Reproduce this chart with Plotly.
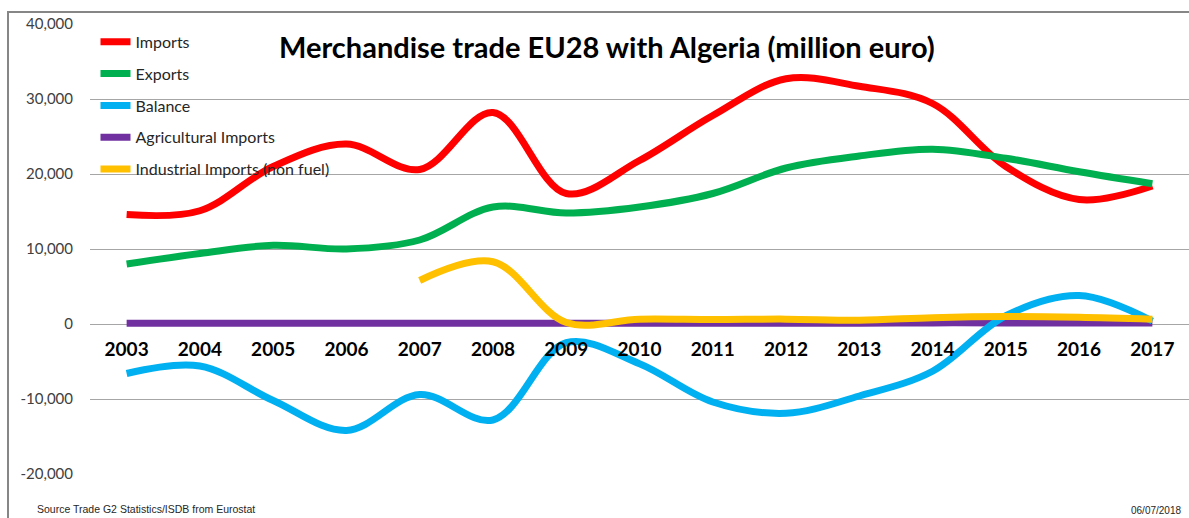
import plotly.graph_objects as go

years = [str(y) for y in range(2003, 2018)]

imports = [14600, 15100, 21000, 24000, 20600, 28200, 17400, 21800, 27800, 32700, 31700, 29400, 21000, 16600, 18400]
exports = [8000, 9400, 10500, 10000, 11200, 15600, 14800, 15600, 17400, 20800, 22400, 23300, 22100, 20300, 18700]
balance = [-6600, -5600, -10200, -14200, -9400, -12800, -2500, -5300, -10400, -11900, -9600, -6300, 1100, 3800, 400]
agri_imports = [100, 100, 100, 100, 100, 100, 100, 100, 100, 100, 100, 150, 150, 150, 150]
ind_imports = [None, None, None, None, 5800, 8300, 200, 650, 600, 650, 500, 850, 1000, 900, 650]

y_ticks = [-20000, -10000, 0, 10000, 20000, 30000, 40000]
y_ticktext = ['-20,000', '-10,000', '0', '10,000', '20,000', '30,000', '40,000']

series = [
    ('Imports', imports, '#FF0000'),
    ('Exports', exports, '#00B050'),
    ('Balance', balance, '#00B0F0'),
    ('Agricultural Imports', agri_imports, '#7030A0'),
    ('Industrial Imports (non fuel)', ind_imports, '#FFC000'),
]

fig = go.Figure()

# purple first so it sits under the others, legend order kept via legendrank
draw_order = [3, 0, 1, 2, 4]
for i in draw_order:
    name, vals, color = series[i]
    fig.add_trace(go.Scatter(
        x=years,
        y=vals,
        mode='lines',
        name=name,
        legendgroup=name,
        legendrank=i + 1,
        line=dict(color=color, width=7, shape='spline', smoothing=1),
        connectgaps=False,
    ))

fig.update_layout(
    width=1189,
    height=518,
    margin=dict(l=90, r=0, t=24, b=44),
    paper_bgcolor='white',
    plot_bgcolor='white',
    font=dict(family='Lato, Carlito, Liberation Sans, sans-serif', size=15, color='#404040'),
    showlegend=True,
    legend=dict(
        x=0.005, y=0.998, xanchor='left', yanchor='top',
        bgcolor='rgba(0,0,0,0)',
        font=dict(size=16, color='#262626'),
        tracegroupgap=8,
        itemwidth=30,
    ),
    xaxis=dict(
        type='category',
        range=[-0.5, 14.5],
        anchor='free',
        position=1 / 3,
        showgrid=False,
        showline=False,
        zeroline=False,
        ticks='',
        ticklabelstandoff=12,
        tickfont=dict(size=19, color='black', family='Lato, sans-serif', weight='bold'),
    ),
    yaxis=dict(
        range=[-20000, 40000],
        tickvals=y_ticks,
        ticktext=y_ticktext,
        showgrid=True,
        gridcolor='#a6a6a6',
        gridwidth=1,
        zeroline=True,
        zerolinecolor='#a6a6a6',
        zerolinewidth=1,
        ticks='',
        ticklabelstandoff=16,
        tickfont=dict(size=15, color='#404040'),
    ),
)

fig.add_annotation(
    text='<b>Merchandise trade EU28 with Algeria (million euro)</b>',
    xref='paper', yref='paper', x=0.4704, y=0.949,
    xanchor='center', yanchor='middle', showarrow=False,
    font=dict(size=29, color='black', family='Lato, sans-serif'),
)
fig.add_annotation(
    text='Source Trade G2 Statistics/ISDB from Eurostat',
    xref='paper', yref='paper', x=-0.05, y=-0.078,
    xanchor='left', yanchor='middle', showarrow=False,
    font=dict(size=10.5, color='#262626', family='Liberation Sans, Arial, sans-serif'),
)
fig.add_annotation(
    text='06/07/2018',
    xref='paper', yref='paper', x=0.9945, y=-0.082,
    xanchor='right', yanchor='middle', showarrow=False,
    font=dict(size=10, color='#262626', family='Liberation Sans, Arial, sans-serif'),
)

# outer chart border
fig.add_shape(
    type='rect', xref='paper', yref='paper',
    x0=-0.0746, x1=1.2, y0=-0.3, y1=1.0267,
    line=dict(color='#868686', width=2), layer='below',
)

fig.write_html('out.html', config={'displayModeBar': False},
               post_script="document.body.style.margin='0';")
